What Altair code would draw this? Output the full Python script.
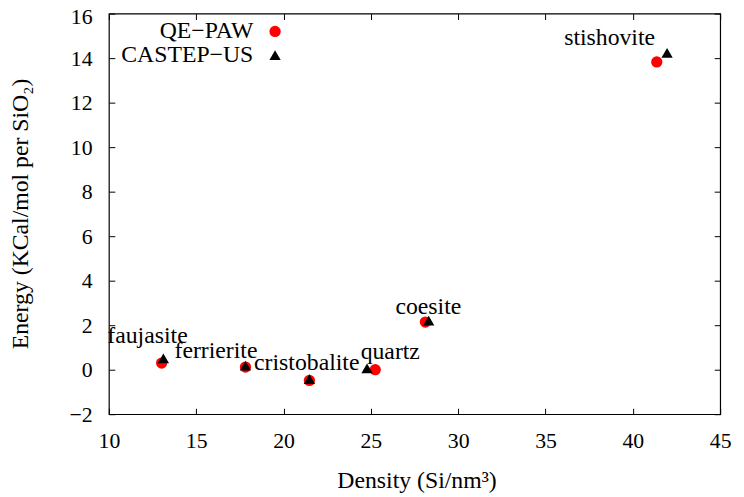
import altair as alt
import pandas as pd

materials = ["faujasite", "ferrierite", "cristobalite", "quartz", "coesite", "stishovite"]
qe_x = [13.02, 17.82, 21.48, 25.25, 28.12, 41.37]
qe_y = [0.30, 0.12, -0.48, 0.0, 2.14, 13.83]
castep_x = [13.12, 17.82, 21.48, 24.78, 28.31, 41.96]
castep_y = [0.51, 0.18, -0.42, 0.06, 2.21, 14.24]
label_x = [12.21, 16.13, 21.33, 26.11, 28.29, 38.67]
label_y = [1.22, 0.51, 0.0, 0.48, 2.52, 14.59]
series = ["QE\u2212PAW", "CASTEP\u2212US"]
x_ticks = [10, 15, 20, 25, 30, 35, 40, 45]
y_ticks = [-2, 0, 2, 4, 6, 8, 10, 12, 14, 16]

W, H = 618, 405
FONT = "Times New Roman, Liberation Serif, serif"

rows = []
for m, x, y in zip(materials, qe_x, qe_y):
    rows.append({"material": m, "x": x, "y": y, "series": series[0]})
for m, x, y in zip(materials, castep_x, castep_y):
    rows.append({"material": m, "x": x, "y": y, "series": series[1]})
df = pd.DataFrame(rows)
lab = pd.DataFrame({"name": materials, "lx": label_x, "ly": label_y})

xs = alt.Scale(domain=[10, 45], nice=False, zero=False)
ys = alt.Scale(domain=[-2, 16], nice=False, zero=False)

axA_x = alt.Axis(orient="bottom", values=x_ticks, ticks=False, tickSize=0, domain=False, grid=False,
                 labelFlush=False, labelPadding=17, title="Density (Si/nm\u00b3)", titleY=74, titleX=311,
                 titleBaseline="alphabetic", titleAlign="center")
axA_y = alt.Axis(orient="left", values=y_ticks, ticks=False, tickSize=0, domain=False, grid=False,
                 labelFlush=False, labelPadding=17,
                 labelOffset={"condition": {"test": "datum.value == 16", "value": 3}, "value": 0},
                 title="Energy (KCal/mol per SiO\u2082)", titleX=-82, titleY=202,
                 titleBaseline="alphabetic", titleAlign="center", titleAngle=270)
axB_x = alt.Axis(orient="top", offset=-H, values=x_ticks, ticks=True, tickSize=6, labels=False,
                 domain=False, grid=False, title=None)
axB_y = alt.Axis(orient="right", offset=-W, values=y_ticks, ticks=True, tickSize=6, labels=False,
                 domain=False, grid=False, title=None)
axC_x = alt.Axis(orient="bottom", offset=-H, values=x_ticks, ticks=True, tickSize=6, labels=False,
                 domain=False, grid=False, title=None)
axC_y = alt.Axis(orient="left", offset=-W, values=y_ticks, ticks=True, tickSize=6, labels=False,
                 domain=False, grid=False, title=None)

pts = alt.Chart(df).mark_point(filled=True, size=130, opacity=1).encode(
    x=alt.X("x:Q", scale=xs, axis=axA_x),
    y=alt.Y("y:Q", scale=ys, axis=axA_y),
    color=alt.Color("series:N", scale=alt.Scale(domain=series, range=["#ff0000", "#000000"]),
                    legend=alt.Legend(orient="none", legendX=95, legendY=6, title=None,
                                      labelAlign="right", labelOffset={"expr": "-34"}, symbolOffset=61,
                                      labelFont=FONT, labelFontSize=24, labelColor="black",
                                      rowPadding=0, symbolSize=130, symbolStrokeWidth=0)),
    shape=alt.Shape("series:N", scale=alt.Scale(domain=series, range=["circle", "triangle-up"])),
    order=alt.Order("series:N", sort="descending"),
)

txt = alt.Chart(lab).mark_text(font=FONT, fontSize=24, align="center", baseline="alphabetic",
                               color="black").encode(
    x=alt.X("lx:Q", scale=xs, axis=axB_x),
    y=alt.Y("ly:Q", scale=ys, axis=axB_y),
    text="name:N",
)

ghost = alt.Chart(df).mark_point(opacity=0).encode(
    x=alt.X("x:Q", scale=xs, axis=axC_x),
    y=alt.Y("y:Q", scale=ys, axis=axC_y),
)

chart = alt.layer(pts, txt, ghost).resolve_axis(x="independent", y="independent").properties(
    width=W, height=H, autosize="none",
    padding={"left": 102, "top": 3, "right": 16, "bottom": 81},
).configure_axis(
    labelFont=FONT, labelFontSize=22, labelColor="black",
    titleFont=FONT, titleFontSize=24, titleFontWeight="normal", titleColor="black",
    tickColor="black",
).configure_view(stroke="black", strokeWidth=1.2)

chart.save("out.html", embed_options={"renderer": "svg", "actions": False})
